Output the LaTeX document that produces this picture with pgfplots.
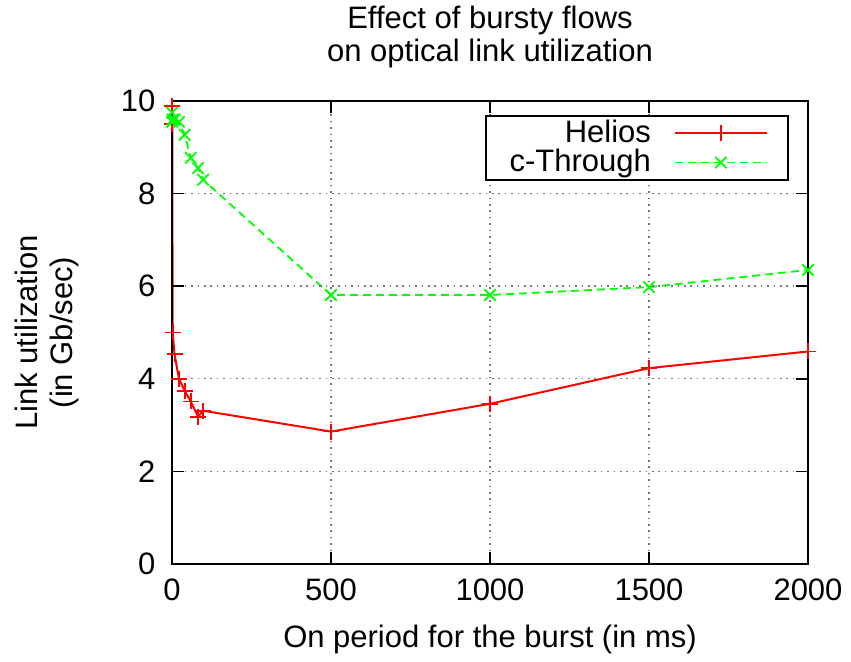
\documentclass[border=0pt]{standalone}
\usepackage{pgfplots}
\pgfplotsset{compat=1.18}
\usepackage{fontspec}
\setmainfont{Liberation Sans}
\begin{document}
\fontsize{15.5}{17.5}\selectfont
\begin{tikzpicture}
\begin{axis}[
  at={(0,0)}, anchor=south west,
  scale only axis,
  width=318pt, height=231.5pt,
  xmin=0, xmax=2000, ymin=0, ymax=10,
  xtick={0,500,1000,1500,2000},
  ytick={0,2,4,6,8,10},
  /pgf/number format/assume math mode=true,
  /pgf/number format/1000 sep={},
  tick label style={font=\fontsize{15.5}{17.5}\selectfont},
  label style={font=\fontsize{15.5}{17.5}\selectfont},
  yticklabel style={xshift=-3pt},
  xticklabel style={yshift=-2pt},
  tick align=inside,
  major tick length=6pt,
  every tick/.style={black, line width=0.8pt},
  axis line style={line width=1.3pt},
  grid=major,
  major grid style={black!55, line width=0.7pt, dash pattern=on 0.8pt off 2.4pt},
  axis on top,
  clip=false,
  title={Effect of bursty flows\\on optical link utilization},
  title style={at={(axis description cs:0.5,1.112)}, anchor=center, align=center, font=\fontsize{15.5}{16.5}\selectfont},
  xlabel={On period for the burst (in ms)},
  xlabel style={at={(axis description cs:0.5,-0.164)}, anchor=center},
  ylabel={Link utilization\\(in Gb/sec)},
  ylabel style={at={(axis description cs:-0.197,0.5)}, anchor=center, align=center, rotate=0},
  legend style={at={(0.970,0.970)}, anchor=north east, draw=black, line width=1pt,
    font=\fontsize{15.5}{17.5}\selectfont, inner xsep=10pt, inner ysep=0pt, row sep=-3pt},
  legend cell align=right,
  legend plot pos=right,
  legend image code/.code={\path[draw=none] (0pt,0pt) -- (10pt,0pt);\draw[#1, mark repeat=2, mark phase=2] plot coordinates {(10pt,0pt) (33pt,0pt) (56pt,0pt)};},
]
\addplot[color=red, draw=red, line width=1pt, mark=+, mark size=4pt, mark options={solid, draw=red, line width=0.9pt}] coordinates {
 (0,9.9) (1,9.5) (2,5.0) (8,4.53) (22,4.0) (40,3.74) (59,3.51) (82,3.18) (98,3.31)
 (500,2.86) (1000,3.46) (1500,4.23) (2000,4.59)
};
\addlegendentry{Helios}
\addplot[color=green, draw=green, line width=0.9pt, dash pattern=on 4pt off 2.5pt, mark=x, mark size=4pt, mark options={solid, draw=green, line width=0.9pt}] coordinates {
 (0,9.75) (1,9.55) (2,9.6) (8,9.6) (22,9.55) (40,9.27) (59,8.77) (82,8.55) (98,8.3)
 (500,5.81) (1000,5.81) (1500,5.98) (2000,6.35)
};
\addlegendentry{c-Through}
\end{axis}
\pgfresetboundingbox
\path (-86pt,-49pt) rectangle (339.5pt,282pt);
\end{tikzpicture}
\end{document}
